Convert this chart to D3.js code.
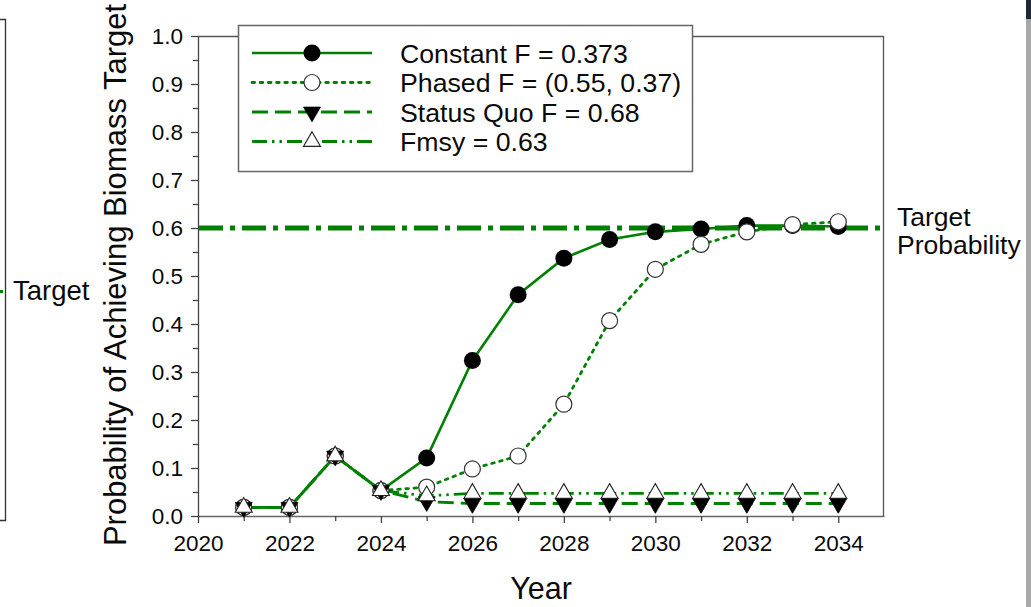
<!DOCTYPE html>
<html>
<head>
<meta charset="utf-8">
<script src="https://cdn.jsdelivr.net/npm/d3@7"></script>
<style>
  html, body { margin: 0; padding: 0; background: #fff; }
  svg { display: block; font-family: "Liberation Sans", Arial, sans-serif; }
</style>
</head>
<body>
<svg id="chart" width="1031" height="607"></svg>
<script>
// ---- data ----
const years = [2021, 2022, 2023, 2024, 2025, 2026, 2027, 2028, 2029, 2030, 2031, 2032, 2033, 2034];
const constantF = [0.018, 0.018, 0.125, 0.053, 0.121, 0.324, 0.461, 0.537, 0.576, 0.592, 0.598, 0.605, 0.605, 0.603];
const phasedF   = [0.018, 0.018, 0.125, 0.053, 0.060, 0.098, 0.125, 0.233, 0.407, 0.514, 0.566, 0.592, 0.607, 0.613];
const statusQuo = [0.018, 0.018, 0.125, 0.053, 0.030, 0.026, 0.026, 0.026, 0.026, 0.026, 0.026, 0.026, 0.026, 0.026];
const fmsy      = [0.018, 0.018, 0.125, 0.053, 0.042, 0.047, 0.047, 0.047, 0.047, 0.047, 0.047, 0.047, 0.047, 0.047];
const targetProb = 0.6;
const seriesNames = ["Constant F = 0.373", "Phased F = (0.55, 0.37)", "Status Quo F = 0.68", "Fmsy = 0.63"];
const xTickValues = [2020, 2022, 2024, 2026, 2028, 2030, 2032, 2034];
const yTickValues = [0, 0.1, 0.2, 0.3, 0.4, 0.5, 0.6, 0.7, 0.8, 0.9, 1.0];
const xDomain = [2020, 2035];
const yDomain = [0, 1];

// ---- layout ----
const svg = d3.select("#chart");
const L = 198, R = 884, T = 36, B = 516;
const x = d3.scaleLinear().domain(xDomain).range([L, R]);
const y = d3.scaleLinear().domain(yDomain).range([B, T]);
const green = "#008000";
const axisColor = "#444";
const textColor = "#0a0a0a";

// ---- screenshot edge decorations ----
svg.append("path").attr("d", "M0,19.5 H5.5 V520.5 H0").attr("fill", "none").attr("stroke", "#333").attr("stroke-width", 1.3);
svg.append("rect").attr("x", 0).attr("y", 290).attr("width", 3).attr("height", 3).attr("fill", green);
svg.append("text").attr("x", 13).attr("y", 300).attr("font-size", 27.5).attr("fill", textColor).text("Target");
svg.append("rect").attr("x", 1026).attr("y", 0).attr("width", 5).attr("height", 19).attr("fill", "#1c2a36");
svg.append("rect").attr("x", 1026).attr("y", 19).attr("width", 5).attr("height", 588).attr("fill", "#a8a8a8");

// ---- frame (top & right) ----
svg.append("path").attr("d", `M${L},${T + 0.5} H${R - 0.5} V${B}`).attr("fill", "none").attr("stroke", "#555").attr("stroke-width", 1.3);

// ---- axes ----
const xMinor = d3.range(xDomain[0], xDomain[1] + 1, 1).filter(v => !xTickValues.includes(v) && v < xDomain[1]);
const gx = svg.append("g").attr("transform", `translate(0,${B})`);
gx.call(d3.axisBottom(x).tickValues(xTickValues).tickFormat(d3.format("d")).tickSize(7).tickSizeOuter(0).tickPadding(12));
gx.append("g").call(d3.axisBottom(x).tickValues(xMinor).tickFormat("").tickSize(5).tickSizeOuter(0))
  .select(".domain").remove();
gx.selectAll("path.domain").attr("stroke", "#666").attr("stroke-width", 1.5);
gx.selectAll("line").attr("stroke", axisColor).attr("stroke-width", 1.3);
gx.selectAll("text").attr("font-size", 22.5).attr("fill", textColor)
  .attr("font-family", "Liberation Sans, Arial, sans-serif");

const yMinor = d3.range(0.05, 1.0, 0.1);
const gy = svg.append("g").attr("transform", `translate(${L},0)`);
gy.call(d3.axisLeft(y).tickValues(yTickValues).tickFormat(d3.format(".1f")).tickSize(7).tickSizeOuter(0).tickPadding(8));
gy.append("g").call(d3.axisLeft(y).tickValues(yMinor).tickFormat("").tickSize(5).tickSizeOuter(0))
  .select(".domain").remove();
gy.selectAll("path.domain").attr("stroke", axisColor).attr("stroke-width", 1.3);
gy.selectAll("line").attr("stroke", axisColor).attr("stroke-width", 1.3);
gy.selectAll("text").attr("font-size", 22.5).attr("fill", textColor)
  .attr("font-family", "Liberation Sans, Arial, sans-serif");

// axis titles
svg.append("text").attr("transform", `translate(126,275) rotate(-90)`).attr("text-anchor", "middle")
  .attr("font-size", 31).attr("fill", textColor).text("Probability of Achieving Biomass Target");
svg.append("text").attr("x", 541).attr("y", 599).attr("text-anchor", "middle")
  .attr("font-size", 30.5).attr("fill", textColor).text("Year");

// ---- target line ----
svg.append("line").attr("x1", L + 1).attr("x2", R - 1).attr("y1", y(targetProb)).attr("y2", y(targetProb))
  .attr("stroke", green).attr("stroke-width", 5).attr("stroke-dasharray", "24,7,5,7");
svg.append("text").attr("x", 897).attr("y", 226).attr("font-size", 26.5).attr("fill", textColor).text("Target");
svg.append("text").attr("x", 897).attr("y", 254).attr("font-size", 26.5).attr("fill", textColor).text("Probability");

// ---- series ----
const series = [
  { name: seriesNames[0], values: constantF, dash: null, width: 2.6, marker: "fcircle" },
  { name: seriesNames[1], values: phasedF, dash: "2.6,5.6", width: 2.8, marker: "ocircle" },
  { name: seriesNames[2], values: statusQuo, dash: "16,7", width: 2.8, marker: "dtri" },
  { name: seriesNames[3], values: fmsy, dash: "15,5,2.5,5,2.5,5", width: 2.8, marker: "utri" }
];

const line = d3.line().x(d => x(d[0])).y(d => y(d[1])).curve(d3.curveLinear);
series.forEach(s => {
  const pts = years.map((yr, i) => [yr, s.values[i]]);
  const p = svg.append("path").attr("d", line(pts)).attr("fill", "none")
    .attr("stroke", green).attr("stroke-width", s.width);
  if (s.dash) p.attr("stroke-dasharray", s.dash);
  if (s.marker === "ocircle") p.attr("stroke-linecap", "round");
});

function drawMarker(g, type, cx, cy) {
  if (type === "fcircle") {
    g.append("circle").attr("cx", cx).attr("cy", cy).attr("r", 8.5).attr("fill", "#000");
  } else if (type === "ocircle") {
    g.append("circle").attr("cx", cx).attr("cy", cy).attr("r", 8).attr("fill", "#fff")
      .attr("stroke", "#333").attr("stroke-width", 1.2);
  } else if (type === "dtri") {
    g.append("path").attr("d", d3.symbol().type(d3.symbolTriangle).size(125)())
      .attr("transform", `translate(${cx},${cy}) rotate(180)`).attr("fill", "#000")
      .attr("stroke", "#000").attr("stroke-width", 0.8);
  } else if (type === "utri") {
    g.append("path").attr("d", d3.symbol().type(d3.symbolTriangle).size(125)())
      .attr("transform", `translate(${cx},${cy})`).attr("fill", "#fff")
      .attr("stroke", "#222").attr("stroke-width", 1.1);
  }
}

series.forEach(s => {
  const g = svg.append("g");
  years.forEach((yr, i) => drawMarker(g, s.marker, x(yr), y(s.values[i])));
});

// ---- legend ----
const lg = svg.append("g");
lg.append("rect").attr("x", 238.5).attr("y", 25.5).attr("width", 454).attr("height", 146)
  .attr("fill", "#fff").attr("stroke", "#666").attr("stroke-width", 1.5);
const rowY = [53, 82.5, 112, 141.5];
series.forEach((s, i) => {
  const ly = rowY[i];
  const p = lg.append("line").attr("x1", 252).attr("x2", 372).attr("y1", ly).attr("y2", ly)
    .attr("stroke", green).attr("stroke-width", s.width);
  if (s.dash) p.attr("stroke-dasharray", s.dash);
  if (s.marker === "ocircle") p.attr("stroke-linecap", "round");
  drawMarker(lg, s.marker, 312, ly);
  lg.append("text").attr("x", 400).attr("y", ly).attr("dy", "0.36em").attr("font-size", 26.7)
    .attr("fill", textColor).text(s.name);
});
</script>
</body>
</html>
